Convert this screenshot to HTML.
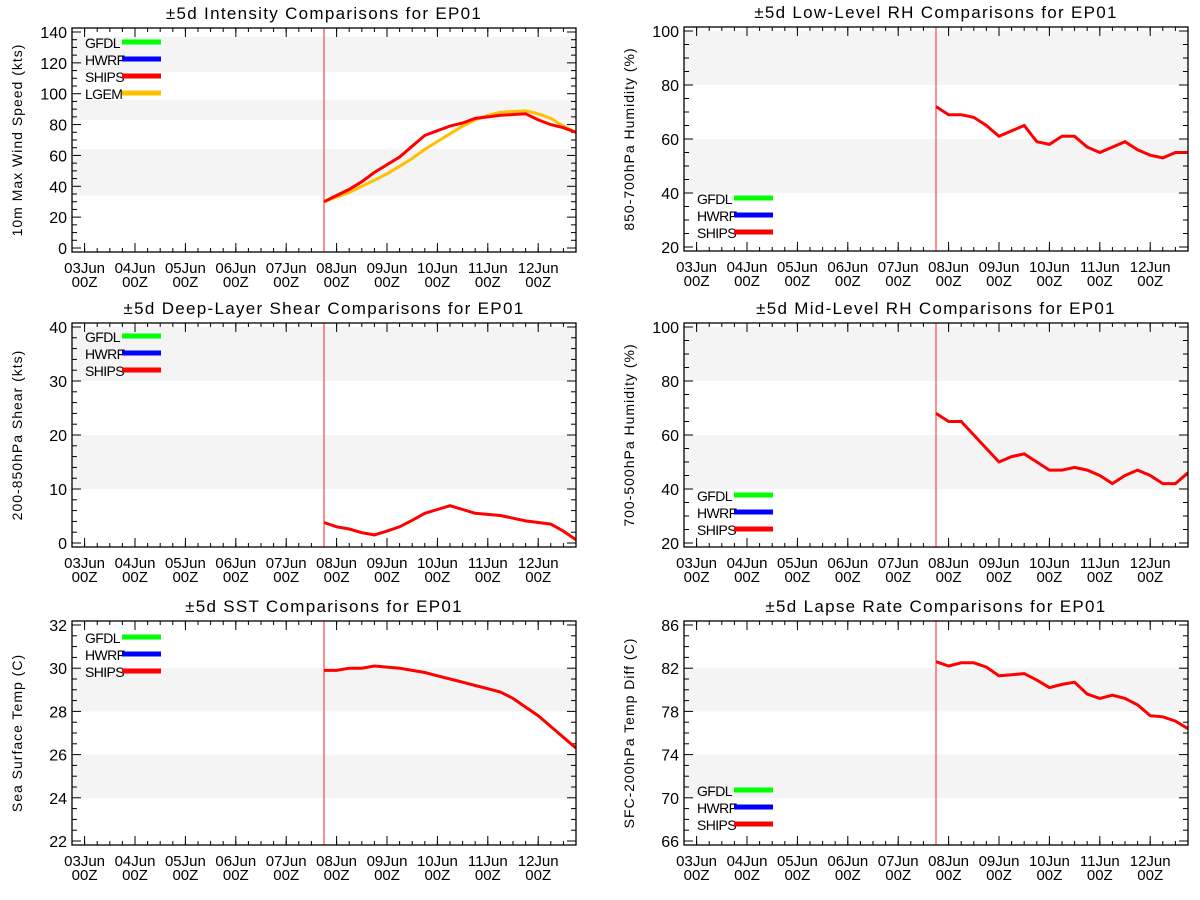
<!DOCTYPE html>
<html><head><meta charset="utf-8">
<style>
body{margin:0;background:#fff;}
svg{display:block;font-family:"Liberation Sans","DejaVu Sans",sans-serif;}
</style></head>
<body>
<svg id="chart" width="1200" height="900" viewBox="0 0 1200 900" xmlns="http://www.w3.org/2000/svg"></svg>
<script>
// hours relative to initial time (07Jun 18Z)
const hours = [0,6,12,18,24,30,36,42,48,54,60,66,72,78,84,90,96,102,108,114,120];
const dayTickLabels = ["03Jun","04Jun","05Jun","06Jun","07Jun","08Jun","09Jun","10Jun","11Jun","12Jun"];
const dayTickHours = [-114,-90,-66,-42,-18,6,30,54,78,102];
const intensityShips = [30,34,38,43,49,54,59,66,73,76,79,81,84,85,86,86.5,87,83,80,78,75];
const intensityLgem = [30,33,36,40,44,48,53,58,64,69,74,79,83,86,88,88.5,89,87,84,79,75];
const lowRhShips = [72,69,69,68,65,61,63,65,59,58,61,61,57,55,57,59,56,54,53,55,55];
const shearShips = [3.8,3.0,2.6,1.9,1.5,2.2,3.0,4.2,5.5,6.2,6.9,6.2,5.5,5.3,5.1,4.6,4.1,3.8,3.5,2.2,0.6];
const midRhShips = [68,65,65,60,55,50,52,53,50,47,47,48,47,45,42,45,47,45,42,42,46];
const sstShips = [29.9,29.9,30.0,30.0,30.1,30.05,30.0,29.9,29.8,29.65,29.5,29.35,29.2,29.05,28.9,28.6,28.2,27.8,27.3,26.8,26.3];
const lapseShips = [82.6,82.2,82.5,82.5,82.1,81.3,81.4,81.5,80.9,80.2,80.5,80.7,79.6,79.2,79.5,79.2,78.6,77.6,77.5,77.1,76.4];
const intensityTicks = [0,20,40,60,80,100,120,140];
const rhTicks = [20,40,60,80,100];
const shearTicks = [0,10,20,30,40];
const sstTicks = [22,24,26,28,30,32];
const lapseTicks = [66,70,74,78,82,86];
const intensityBands = [[34,64],[83,96],[114,137]];
const rhBands = [[40,60],[80,100]];
const shearBands = [[10,20],[30,40]];
const sstBands = [[24,26],[28,30]];
const lapseBands = [[70,74],[78,82]];

const NS="http://www.w3.org/2000/svg";
const svg=document.getElementById('chart');
function el(tag,attrs,parent){const e=document.createElementNS(NS,tag);for(const k in attrs)e.setAttribute(k,attrs[k]);(parent||svg).appendChild(e);return e;}

const panels=[
 {name:'intensity',title:'±5d Intensity Comparisons for EP01',ylab:'10m Max Wind Speed (kts)',col:0,top:28,ticks:intensityTicks,minor:4,bands:intensityBands,
  series:[['ships',intensityShips,'#ff0000'],['lgem',intensityLgem,'#ffc000']],legend:['GFDL','HWRF','SHIPS','LGEM'],legY:42,order:['lgem','ships']},
 {name:'low-rh',title:'±5d Low-Level RH Comparisons for EP01',ylab:'850-700hPa Humidity (%)',col:1,top:27,ticks:rhTicks,minor:4,bands:rhBands,
  series:[['ships',lowRhShips,'#ff0000']],legend:['GFDL','HWRF','SHIPS'],legY:198},
 {name:'shear',title:'±5d Deep-Layer Shear Comparisons for EP01',ylab:'200-850hPa Shear (kts)',col:0,top:323,ticks:shearTicks,minor:5,bands:shearBands,
  series:[['ships',shearShips,'#ff0000']],legend:['GFDL','HWRF','SHIPS'],legY:336},
 {name:'mid-rh',title:'±5d Mid-Level RH Comparisons for EP01',ylab:'700-500hPa Humidity (%)',col:1,top:323,ticks:rhTicks,minor:4,bands:rhBands,
  series:[['ships',midRhShips,'#ff0000']],legend:['GFDL','HWRF','SHIPS'],legY:495},
 {name:'sst',title:'±5d SST Comparisons for EP01',ylab:'Sea Surface Temp (C)',col:0,top:621,ticks:sstTicks,minor:4,bands:sstBands,
  series:[['ships',sstShips,'#ff0000']],legend:['GFDL','HWRF','SHIPS'],legY:637},
 {name:'lapse',title:'±5d Lapse Rate Comparisons for EP01',ylab:'SFC-200hPa Temp Diff (C)',col:1,top:621,ticks:lapseTicks,minor:4,bands:lapseBands,
  series:[['ships',lapseShips,'#ff0000']],legend:['GFDL','HWRF','SHIPS'],legY:790}
];
const legColors={GFDL:'#00ff00',HWRF:'#0000ff',SHIPS:'#ff0000',LGEM:'#ffc000'};

panels.forEach(p=>{
  const L=p.col===0?72:684, R=L+504, T=p.top, B=T+224;
  const init=(L+R)/2;
  const xs=h=>init+h*2.1;
  const t0=p.ticks[0], t1=p.ticks[p.ticks.length-1];
  const ys=v=>(B-4)-(v-t0)/(t1-t0)*((B-4)-(T+4));
  const g=el('g',{});
  
  
  p.bands.forEach(b=>{
    const r=el('rect',{x:L,y:ys(b[1]),width:R-L,height:ys(b[0])-ys(b[1]),fill:'#f4f4f4'},g);
    
    
  });
  const tt=el('text',{x:(L+R)/2,y:T-9,'text-anchor':'middle','font-size':17,fill:'#000','letter-spacing':'1.3'},g);
  tt.textContent=p.title;
  
  
  const cx=L-50, cy=(T+B)/2;
  const yl=el('text',{x:cx,y:cy,'text-anchor':'middle','font-size':14,transform:`rotate(-90 ${cx} ${cy})`,'letter-spacing':'1'},g);
  yl.textContent=p.ylab;
  
  
  for(let i=0;i<p.ticks.length;i++){
    const v=p.ticks[i], y=ys(v);
    el('line',{x1:L,x2:L+9,y1:y,y2:y,stroke:'#000'},g);
    el('line',{x1:R,x2:R-9,y1:y,y2:y,stroke:'#000'},g);
    const tl=el('text',{x:L-5,y:y+6,'text-anchor':'end','font-size':16},g);
    tl.textContent=v;
    
    
    if(i<p.ticks.length-1){
      const step=(p.ticks[i+1]-v)/p.minor;
      for(let k=1;k<p.minor;k++){const ym=ys(v+k*step);
        el('line',{x1:L,x2:L+5,y1:ym,y2:ym,stroke:'#000'},g);
        el('line',{x1:R,x2:R-5,y1:ym,y2:ym,stroke:'#000'},g);}
    }
  }
  for(let h=-120;h<=120;h+=6){const x=xs(h);
    el('line',{x1:x,x2:x,y1:B,y2:B-4,stroke:'#000'},g);
    el('line',{x1:x,x2:x,y1:T,y2:T+4,stroke:'#000'},g);}
  dayTickHours.forEach((h,i)=>{const x=xs(h);
    el('line',{x1:x,x2:x,y1:B,y2:B-9,stroke:'#000'},g);
    el('line',{x1:x,x2:x,y1:T,y2:T+9,stroke:'#000'},g);
    const a=el('text',{x:x,y:B+21,'text-anchor':'middle','font-size':15},g);
    a.textContent=dayTickLabels[i];
    
    
    const b=el('text',{x:x,y:B+35,'text-anchor':'middle','font-size':15},g);
    b.textContent='00Z';
    
    
  });
  const il=el('line',{x1:init,x2:init,y1:T,y2:B,stroke:'#ff5050','stroke-width':1.3},g);
  
  
  const ser=p.series.slice();
  if(p.order) ser.sort((a,b)=>p.order.indexOf(a[0])-p.order.indexOf(b[0]));
  ser.forEach(s=>{
    const pts=hours.map((h,i)=>xs(h).toFixed(1)+','+ys(s[1][i]).toFixed(1)).join(' ');
    const pl=el('polyline',{points:pts,fill:'none',stroke:s[2],'stroke-width':3,'stroke-linejoin':'miter'},g);
    
    
  });
  p.legend.forEach((n,i)=>{
    const y=p.legY+i*17;
    const lt=el('text',{x:L+13,y:y+6,'font-size':14,'letter-spacing':'-0.6'},g);
    lt.textContent=n;
    
    
    const ll=el('line',{x1:L+50,x2:L+89,y1:y,y2:y,stroke:legColors[n],'stroke-width':5},g);
    
    
  });
  const fr=el('rect',{x:L,y:T,width:R-L,height:B-T,fill:'none',stroke:'#000','stroke-width':1.3},g);
  
  
});
</script>
</body></html>
